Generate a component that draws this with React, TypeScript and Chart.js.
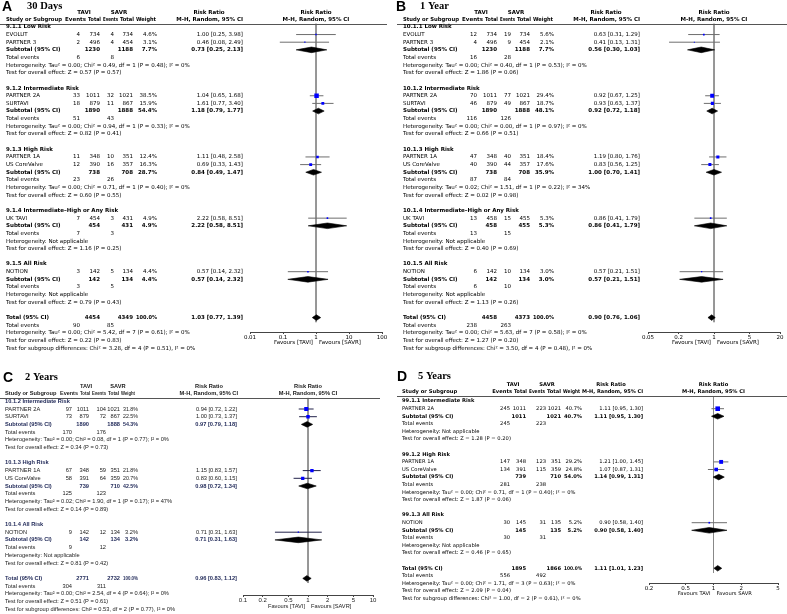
import { useEffect, useRef } from "react";
import { Chart, registerables } from "chart.js";

Chart.register(...registerables);

/* ================= Panel A : 30 Days ================= */
const A_groups = ["9.1.1 Low Risk", "9.1.2 Intermediate Risk", "9.1.3 High Risk", "9.1.4 Intermediate–High or Any Risk", "9.1.5 All Risk"];
const A_studies = ["EVOLUT", "PARTNER 3", "PARTNER 2A", "SURTAVI", "PARTNER 1A", "US CoreValve", "UK TAVI", "NOTION"];
const A_studyGroup = [0, 0, 1, 1, 2, 2, 3, 4];
const A_taviEvents = [4, 2, 33, 18, 11, 12, 7, 3];
const A_taviTotal = [734, 496, 1011, 879, 348, 390, 454, 142];
const A_savrEvents = [4, 4, 32, 11, 10, 16, 3, 5];
const A_savrTotal = [734, 454, 1021, 867, 351, 357, 431, 134];
const A_weight = [4.6, 3.1, 38.5, 15.9, 12.4, 16.3, 4.9, 4.4];
const A_rr = [1.0, 0.46, 1.04, 1.61, 1.11, 0.69, 2.22, 0.57];
const A_lo = [0.25, 0.08, 0.65, 0.77, 0.48, 0.33, 0.58, 0.14];
const A_hi = [3.98, 2.49, 1.68, 3.4, 2.58, 1.43, 8.51, 2.32];
const A_subTaviTotal = [1230, 1890, 738, 454, 142];
const A_subSavrTotal = [1188, 1888, 708, 431, 134];
const A_subWeight = [7.7, 54.4, 28.7, 4.9, 4.4];
const A_subRR = [0.73, 1.18, 0.84, 2.22, 0.57];
const A_subLo = [0.25, 0.79, 0.49, 0.58, 0.14];
const A_subHi = [2.13, 1.77, 1.47, 8.51, 2.32];
const A_subTaviEvents = [6, 51, 23, 7, 3];
const A_subSavrEvents = [8, 43, 26, 3, 5];
const A_subHet = [
  "Heterogeneity: Tau² = 0.00; Chi² = 0.49, df = 1 (P = 0.48); I² = 0%",
  "Heterogeneity: Tau² = 0.00; Chi² = 0.94, df = 1 (P = 0.33); I² = 0%",
  "Heterogeneity: Tau² = 0.00; Chi² = 0.71, df = 1 (P = 0.40); I² = 0%",
  "Heterogeneity: Not applicable",
  "Heterogeneity: Not applicable",
];
const A_subTest = [
  "Test for overall effect: Z = 0.57 (P = 0.57)",
  "Test for overall effect: Z = 0.82 (P = 0.41)",
  "Test for overall effect: Z = 0.60 (P = 0.55)",
  "Test for overall effect: Z = 1.16 (P = 0.25)",
  "Test for overall effect: Z = 0.79 (P = 0.43)",
];
const A_totalN = [4454, 4349];
const A_totalEvents = [90, 85];
const A_totalRR = [1.03, 0.77, 1.39];
const A_footer = [
  "Heterogeneity: Tau² = 0.00; Chi² = 5.42, df = 7 (P = 0.61); I² = 0%",
  "Test for overall effect: Z = 0.22 (P = 0.83)",
  "Test for subgroup differences: Chi² = 3.28, df = 4 (P = 0.51), I² = 0%",
];
const A_ticks = [0.01, 0.1, 1, 10, 100];
const A_tickLabels = ["0.01", "0.1", "1", "10", "100"];

/* ================= Panel B : 1 Year ================= */
const B_groups = ["10.1.1 Low Risk", "10.1.2 Intermediate Risk", "10.1.3 High Risk", "10.1.4 Intermediate–High or Any Risk", "10.1.5 All Risk"];
const B_studies = ["EVOLUT", "PARTNER 3", "PARTNER 2A", "SURTAVI", "PARTNER 1A", "US CoreValve", "UK TAVI", "NOTION"];
const B_studyGroup = [0, 0, 1, 1, 2, 2, 3, 4];
const B_taviEvents = [12, 4, 70, 46, 47, 40, 13, 6];
const B_taviTotal = [734, 496, 1011, 879, 348, 390, 458, 142];
const B_savrEvents = [19, 9, 77, 49, 40, 44, 15, 10];
const B_savrTotal = [734, 454, 1021, 867, 351, 357, 455, 134];
const B_weight = [5.6, 2.1, 29.4, 18.7, 18.4, 17.6, 5.3, 3.0];
const B_rr = [0.63, 0.41, 0.92, 0.93, 1.19, 0.83, 0.86, 0.57];
const B_lo = [0.31, 0.13, 0.67, 0.63, 0.8, 0.56, 0.41, 0.21];
const B_hi = [1.29, 1.31, 1.25, 1.37, 1.76, 1.25, 1.79, 1.51];
const B_subTaviTotal = [1230, 1890, 738, 458, 142];
const B_subSavrTotal = [1188, 1888, 708, 455, 134];
const B_subWeight = [7.7, 48.1, 35.9, 5.3, 3.0];
const B_subRR = [0.56, 0.92, 1.0, 0.86, 0.57];
const B_subLo = [0.3, 0.72, 0.7, 0.41, 0.21];
const B_subHi = [1.03, 1.18, 1.41, 1.79, 1.51];
const B_subTaviEvents = [16, 116, 87, 13, 6];
const B_subSavrEvents = [28, 126, 84, 15, 10];
const B_subHet = [
  "Heterogeneity: Tau² = 0.00; Chi² = 0.40, df = 1 (P = 0.53); I² = 0%",
  "Heterogeneity: Tau² = 0.00; Chi² = 0.00, df = 1 (P = 0.97); I² = 0%",
  "Heterogeneity: Tau² = 0.02; Chi² = 1.51, df = 1 (P = 0.22); I² = 34%",
  "Heterogeneity: Not applicable",
  "Heterogeneity: Not applicable",
];
const B_subTest = [
  "Test for overall effect: Z = 1.86 (P = 0.06)",
  "Test for overall effect: Z = 0.66 (P = 0.51)",
  "Test for overall effect: Z = 0.02 (P = 0.98)",
  "Test for overall effect: Z = 0.40 (P = 0.69)",
  "Test for overall effect: Z = 1.13 (P = 0.26)",
];
const B_totalN = [4458, 4373];
const B_totalEvents = [238, 263];
const B_totalRR = [0.9, 0.76, 1.06];
const B_footer = [
  "Heterogeneity: Tau² = 0.00; Chi² = 5.63, df = 7 (P = 0.58); I² = 0%",
  "Test for overall effect: Z = 1.27 (P = 0.20)",
  "Test for subgroup differences: Chi² = 3.50, df = 4 (P = 0.48), I² = 0%",
];
const B_ticks = [0.05, 0.2, 1, 5, 20];
const B_tickLabels = ["0.05", "0.2", "1", "5", "20"];

/* ================= Panel C : 2 Years ================= */
const C_groups = ["10.1.2 Intermediate Risk", "10.1.3 High Risk", "10.1.4 All Risk"];
const C_studies = ["PARTNER 2A", "SURTAVI", "PARTNER 1A", "US CoreValve", "NOTION"];
const C_studyGroup = [0, 0, 1, 1, 2];
const C_taviEvents = [97, 73, 67, 58, 9];
const C_taviTotal = [1011, 879, 348, 391, 142];
const C_savrEvents = [104, 72, 59, 64, 12];
const C_savrTotal = [1021, 867, 351, 359, 134];
const C_weight = [31.8, 22.5, 21.8, 20.7, 3.2];
const C_rr = [0.94, 1.0, 1.15, 0.83, 0.71];
const C_lo = [0.72, 0.73, 0.83, 0.6, 0.31];
const C_hi = [1.22, 1.37, 1.57, 1.15, 1.63];
const C_subTaviTotal = [1890, 739, 142];
const C_subSavrTotal = [1888, 710, 134];
const C_subWeight = [54.3, 42.5, 3.2];
const C_subRR = [0.97, 0.98, 0.71];
const C_subLo = [0.79, 0.72, 0.31];
const C_subHi = [1.18, 1.34, 1.63];
const C_subTaviEvents = [170, 125, 9];
const C_subSavrEvents = [176, 123, 12];
const C_subHet = [
  "Heterogeneity: Tau² = 0.00; Chi² = 0.08, df = 1 (P = 0.77); I² = 0%",
  "Heterogeneity: Tau² = 0.02; Chi² = 1.90, df = 1 (P = 0.17); I² = 47%",
  "Heterogeneity: Not applicable",
];
const C_subTest = [
  "Test for overall effect: Z = 0.34 (P = 0.73)",
  "Test for overall effect: Z = 0.14 (P = 0.89)",
  "Test for overall effect: Z = 0.81 (P = 0.42)",
];
const C_totalN = [2771, 2732];
const C_totalEvents = [304, 311];
const C_totalRR = [0.96, 0.83, 1.12];
const C_footer = [
  "Heterogeneity: Tau² = 0.00; Chi² = 2.54, df = 4 (P = 0.64); I² = 0%",
  "Test for overall effect: Z = 0.51 (P = 0.61)",
  "Test for subgroup differences: Chi² = 0.53, df = 2 (P = 0.77), I² = 0%",
];
const C_ticks = [0.1, 0.2, 0.5, 1, 2, 5, 10];
const C_tickLabels = ["0.1", "0.2", "0.5", "1", "2", "5", "10"];

/* ================= Panel D : 5 Years ================= */
const D_groups = ["99.1.1 Intermediate Risk", "99.1.2 High Risk", "99.1.3 All Risk"];
const D_studies = ["PARTNER 2A", "PARTNER 1A", "US CoreValve", "NOTION"];
const D_studyGroup = [0, 1, 1, 2];
const D_taviEvents = [245, 147, 134, 30];
const D_taviTotal = [1011, 348, 391, 145];
const D_savrEvents = [223, 123, 115, 31];
const D_savrTotal = [1021, 351, 359, 135];
const D_weight = [40.7, 29.2, 24.8, 5.2];
const D_rr = [1.11, 1.21, 1.07, 0.9];
const D_lo = [0.95, 1.0, 0.87, 0.58];
const D_hi = [1.3, 1.45, 1.31, 1.4];
const D_subTaviTotal = [1011, 739, 145];
const D_subSavrTotal = [1021, 710, 135];
const D_subWeight = [40.7, 54.0, 5.2];
const D_subRR = [1.11, 1.14, 0.9];
const D_subLo = [0.95, 0.99, 0.58];
const D_subHi = [1.3, 1.31, 1.4];
const D_subTaviEvents = [245, 281, 30];
const D_subSavrEvents = [223, 238, 31];
const D_subHet = [
  "Heterogeneity: Not applicable",
  "Heterogeneity: Tau² = 0.00; Chi² = 0.71, df = 1 (P = 0.40); I² = 0%",
  "Heterogeneity: Not applicable",
];
const D_subTest = [
  "Test for overall effect: Z = 1.28 (P = 0.20)",
  "Test for overall effect: Z = 1.87 (P = 0.06)",
  "Test for overall effect: Z = 0.46 (P = 0.65)",
];
const D_totalN = [1895, 1866];
const D_totalEvents = [556, 492];
const D_totalRR = [1.11, 1.01, 1.23];
const D_footer = [
  "Heterogeneity: Tau² = 0.00; Chi² = 1.71, df = 3 (P = 0.63); I² = 0%",
  "Test for overall effect: Z = 2.09 (P = 0.04)",
  "Test for subgroup differences: Chi² = 1.00, df = 2 (P = 0.61), I² = 0%",
];
const D_ticks = [0.2, 0.5, 1, 2, 5];
const D_tickLabels = ["0.2", "0.5", "1", "2", "5"];

/* ================= assembled tables ================= */
type PanelData = {
  letter: string; title: string; favours: string[];
  groups: string[]; studies: string[]; studyGroup: number[];
  taviEvents: number[]; taviTotal: number[]; savrEvents: number[]; savrTotal: number[];
  weight: number[]; rr: number[]; lo: number[]; hi: number[];
  subTaviTotal: number[]; subSavrTotal: number[]; subWeight: number[];
  subRR: number[]; subLo: number[]; subHi: number[];
  subTaviEvents: number[]; subSavrEvents: number[]; subHet: string[]; subTest: string[];
  totalN: number[]; totalEvents: number[]; totalRR: number[]; footer: string[];
  ticks: number[]; tickLabels: string[];
};

const PA: PanelData = {
  letter: "A", title: "30 Days", favours: ["Favours [TAVI]", "Favours [SAVR]"],
  groups: A_groups, studies: A_studies, studyGroup: A_studyGroup,
  taviEvents: A_taviEvents, taviTotal: A_taviTotal, savrEvents: A_savrEvents, savrTotal: A_savrTotal,
  weight: A_weight, rr: A_rr, lo: A_lo, hi: A_hi,
  subTaviTotal: A_subTaviTotal, subSavrTotal: A_subSavrTotal, subWeight: A_subWeight,
  subRR: A_subRR, subLo: A_subLo, subHi: A_subHi,
  subTaviEvents: A_subTaviEvents, subSavrEvents: A_subSavrEvents, subHet: A_subHet, subTest: A_subTest,
  totalN: A_totalN, totalEvents: A_totalEvents, totalRR: A_totalRR, footer: A_footer,
  ticks: A_ticks, tickLabels: A_tickLabels,
};
const PB: PanelData = {
  letter: "B", title: "1 Year", favours: ["Favours [TAVI]", "Favours [SAVR]"],
  groups: B_groups, studies: B_studies, studyGroup: B_studyGroup,
  taviEvents: B_taviEvents, taviTotal: B_taviTotal, savrEvents: B_savrEvents, savrTotal: B_savrTotal,
  weight: B_weight, rr: B_rr, lo: B_lo, hi: B_hi,
  subTaviTotal: B_subTaviTotal, subSavrTotal: B_subSavrTotal, subWeight: B_subWeight,
  subRR: B_subRR, subLo: B_subLo, subHi: B_subHi,
  subTaviEvents: B_subTaviEvents, subSavrEvents: B_subSavrEvents, subHet: B_subHet, subTest: B_subTest,
  totalN: B_totalN, totalEvents: B_totalEvents, totalRR: B_totalRR, footer: B_footer,
  ticks: B_ticks, tickLabels: B_tickLabels,
};
const PC: PanelData = {
  letter: "C", title: "2 Years", favours: ["Favours [TAVI]", "Favours [SAVR]"],
  groups: C_groups, studies: C_studies, studyGroup: C_studyGroup,
  taviEvents: C_taviEvents, taviTotal: C_taviTotal, savrEvents: C_savrEvents, savrTotal: C_savrTotal,
  weight: C_weight, rr: C_rr, lo: C_lo, hi: C_hi,
  subTaviTotal: C_subTaviTotal, subSavrTotal: C_subSavrTotal, subWeight: C_subWeight,
  subRR: C_subRR, subLo: C_subLo, subHi: C_subHi,
  subTaviEvents: C_subTaviEvents, subSavrEvents: C_subSavrEvents, subHet: C_subHet, subTest: C_subTest,
  totalN: C_totalN, totalEvents: C_totalEvents, totalRR: C_totalRR, footer: C_footer,
  ticks: C_ticks, tickLabels: C_tickLabels,
};
const PD: PanelData = {
  letter: "D", title: "5 Years", favours: ["Favours TAVI", "Favours SAVR"],
  groups: D_groups, studies: D_studies, studyGroup: D_studyGroup,
  taviEvents: D_taviEvents, taviTotal: D_taviTotal, savrEvents: D_savrEvents, savrTotal: D_savrTotal,
  weight: D_weight, rr: D_rr, lo: D_lo, hi: D_hi,
  subTaviTotal: D_subTaviTotal, subSavrTotal: D_subSavrTotal, subWeight: D_subWeight,
  subRR: D_subRR, subLo: D_subLo, subHi: D_subHi,
  subTaviEvents: D_subTaviEvents, subSavrEvents: D_subSavrEvents, subHet: D_subHet, subTest: D_subTest,
  totalN: D_totalN, totalEvents: D_totalEvents, totalRR: D_totalRR, footer: D_footer,
  ticks: D_ticks, tickLabels: D_tickLabels,
};

/* ================= layouts (positions / styles only) ================= */
type Layout = { [k: string]: any };

const baseStyle = {
  textColor: "#000", groupColor: "#000", ciColor: "#6e6e6e", refColor: "#888888",
  axisColor: "#444", ruleColor: "#555", sqColor: "#0000ff", sqK: 0.72, diamondHalf: 2.8,
  tickLen: 2, tickPad: 0, favoursDy: 11, letterSize: 14, titleSize: 10.5,
};

const LA: Layout = {
  ...baseStyle, x0: 0, y0: 0, w: 394, h: 352, plotL: 250, plotR: 382,
  ruleY: 23.5, ruleX1: 0, ruleX2: 387, rowY0: 26.9, step: 7.65, axisY: 332,
  hdr1Y: 12.7, hdr2Y: 19.3, letterX: 2, letterY: 11, titleX: 27, titleY: 8.5,
  family: "DejaVu Sans", fitWidth: 184, tickFont: 5.5, studyX: 6,
  cTEv: 80, cTTot: 100, cSEv: 114, cSTot: 133, cW: 157, cCI: 243,
  hStudyEnd: 62, hTEv: 86, hTTot: 101, hSEv: 118, hSTot: 134, hW: 156, hCI: 243,
  taviC: 84, savrC: 119, rrC: 209,
};
const dxB = 397;
const LB: Layout = {
  ...baseStyle, x0: 394, y0: 0, w: 393, h: 352, plotL: 648, plotR: 780,
  ruleY: 23.5, ruleX1: 397, ruleX2: 787, rowY0: 26.9, step: 7.65, axisY: 332,
  hdr1Y: 12.7, hdr2Y: 19.3, letterX: 396, letterY: 11, titleX: 420, titleY: 8.5,
  family: "DejaVu Sans", fitWidth: 184, tickFont: 5.5, studyX: 6 + dxB,
  cTEv: 80 + dxB, cTTot: 100 + dxB, cSEv: 114 + dxB, cSTot: 133 + dxB, cW: 157 + dxB, cCI: 243 + dxB,
  hStudyEnd: 62 + dxB, hTEv: 86 + dxB, hTTot: 101 + dxB, hSEv: 118 + dxB, hSTot: 134 + dxB, hW: 156 + dxB, hCI: 243 + dxB,
  taviC: 84 + dxB, savrC: 119 + dxB, rrC: 209 + dxB,
};
const LC: Layout = {
  ...baseStyle, x0: 0, y0: 352, w: 394, h: 262, plotL: 243, plotR: 373,
  ruleY: 397.7, ruleX1: 0, ruleX2: 380, rowY0: 401.3, step: 7.7, axisY: 595,
  hdr1Y: 386.7, hdr2Y: 393.3, letterX: 3, letterY: 382, titleX: 25, titleY: 380,
  family: "Liberation Sans", fitWidth: 164, tickFont: 6, studyX: 5,
  cTEv: 72, cTTot: 89, cSEv: 106, cSTot: 120, cW: 138, cCI: 237,
  hStudyEnd: 58, hTEv: 78, hTTot: 90, hSEv: 106, hSTot: 119, hW: 135, hCI: 238,
  taviC: 86, savrC: 118, rrC: 209, textColor: "#1a1a1a", groupColor: "#1d2656", ciColor: "#22224a",
};
const LD: Layout = {
  ...baseStyle, x0: 394, y0: 352, w: 393, h: 262, plotL: 649, plotR: 778,
  ruleY: 396, ruleX1: 397, ruleX2: 787, rowY0: 401.1, step: 7.6, axisY: 583,
  hdr1Y: 385, hdr2Y: 391.7, letterX: 397, letterY: 381, titleX: 418, titleY: 379,
  family: "DejaVu Sans", fitWidth: 174, tickFont: 5.5, studyX: 402,
  cTEv: 510, cTTot: 526, cSEv: 546, cSTot: 561, cW: 582, cCI: 643,
  hStudyEnd: 460, hTEv: 512, hTTot: 527, hSEv: 545, hSTot: 561, hW: 580, hCI: 643,
  taviC: 513, savrC: 547, rrC: 611,
};

/* ================= builders ================= */
type Row = { kind: string; text?: string; g?: number; s?: number };

function buildRows(d: PanelData): Row[] {
  const rows: Row[] = [];
  d.groups.forEach((name, g) => {
    rows.push({ kind: "group", text: name });
    d.studies.forEach((_s, i) => {
      if (d.studyGroup[i] === g) rows.push({ kind: "study", s: i });
    });
    rows.push({ kind: "subtotal", g });
    rows.push({ kind: "events", g });
    rows.push({ kind: "text", text: d.subHet[g] });
    rows.push({ kind: "text", text: d.subTest[g] });
    rows.push({ kind: "blank" });
  });
  rows.push({ kind: "total" });
  rows.push({ kind: "totalEvents" });
  d.footer.forEach((t) => rows.push({ kind: "text", text: t }));
  return rows;
}

function buildDatasets(d: PanelData, L: Layout, rows: Row[]) {
  const squares: { x: number; y: number }[] = [];
  const radii: number[] = [];
  const diamonds: any[] = [];
  const cis: any[] = [];
  const half = L.diamondHalf / L.step;
  const yTop = (L.ruleY - L.rowY0) / L.step;
  let totalIdx = 0;
  rows.forEach((r, idx) => {
    if (r.kind === "study") {
      const i = r.s as number;
      cis.push({
        data: [{ x: d.lo[i], y: idx }, { x: d.hi[i], y: idx }],
        showLine: true, borderColor: L.ciColor, borderWidth: 1, pointRadius: 0,
      });
      squares.push({ x: d.rr[i], y: idx });
      radii.push((L.sqK * Math.sqrt(d.weight[i])) / Math.SQRT2);
    }
    if (r.kind === "subtotal" || r.kind === "total") {
      let est: number, lo: number, hi: number;
      if (r.kind === "total") {
        totalIdx = idx;
        [est, lo, hi] = d.totalRR;
      } else {
        const g = r.g as number;
        est = d.subRR[g]; lo = d.subLo[g]; hi = d.subHi[g];
      }
      diamonds.push({
        data: [{ x: lo, y: idx }, { x: est, y: idx - half }, { x: hi, y: idx }],
        showLine: true, fill: "+1", backgroundColor: "#000", borderColor: "#000",
        borderWidth: 0.6, pointRadius: 0,
      });
      diamonds.push({
        data: [{ x: lo, y: idx }, { x: est, y: idx + half }, { x: hi, y: idx }],
        showLine: true, fill: false, borderColor: "#000", borderWidth: 0.6, pointRadius: 0,
      });
    }
  });
  const ref = {
    data: [{ x: 1, y: yTop }, { x: 1, y: totalIdx + 0.6 }],
    showLine: true, borderColor: L.refColor, borderWidth: 1, pointRadius: 0,
  };
  const sq = {
    data: squares, showLine: false, pointStyle: "rect", pointRadius: radii,
    backgroundColor: L.sqColor, borderWidth: 0,
  };
  // first dataset is drawn on top
  return [sq, ...diamonds, ...cis, ref];
}

const fmt2 = (v: number) => v.toFixed(2);
const ciText = (e: number, l: number, h: number) => `${fmt2(e)} [${fmt2(l)}, ${fmt2(h)}]`;

function makeTablePlugin(d: PanelData, L: Layout, rows: Row[]) {
  return {
    id: "forestTable" + d.letter,
    afterDraw(chart: any) {
      const ctx: CanvasRenderingContext2D = chart.ctx;
      const ys = chart.scales.y;
      const xs = chart.scales.x;
      const cx = (v: number) => v - L.x0;
      const cy = (v: number) => v - L.y0;
      ctx.save();
      ctx.font = `10px "${L.family}"`;
      const fs = (10 * L.fitWidth) / ctx.measureText(d.footer[0]).width;
      const reg = `${fs}px "${L.family}"`;
      const bold = `bold ${fs}px "${L.family}"`;
      const wMax = L.cW - L.cSTot - 3;
      const put = (s: string, x: number, y: number, align: CanvasTextAlign, font: string, color?: string, maxW?: number) => {
        ctx.font = font;
        ctx.textAlign = align;
        ctx.textBaseline = "middle";
        ctx.fillStyle = color || L.textColor;
        if (maxW !== undefined) ctx.fillText(s, x, y, maxW);
        else ctx.fillText(s, x, y);
      };

      // title
      ctx.textBaseline = "alphabetic";
      ctx.textAlign = "left";
      ctx.fillStyle = "#000";
      ctx.font = `bold ${L.letterSize}px "Liberation Sans"`;
      ctx.fillText(d.letter, cx(L.letterX), cy(L.letterY));
      ctx.font = `bold ${L.titleSize}px "Liberation Serif"`;
      ctx.fillText(d.title, cx(L.titleX), cy(L.titleY));

      const x1 = xs.getPixelForValue(1);
      // header line 1
      const h1 = cy(L.hdr1Y);
      put("TAVI", cx(L.taviC), h1, "center", bold);
      put("SAVR", cx(L.savrC), h1, "center", bold);
      put("Risk Ratio", cx(L.rrC), h1, "center", bold);
      put("Risk Ratio", x1, h1, "center", bold);
      // header line 2 (each header kept within its own column)
      const h2 = cy(L.hdr2Y);
      put("Study or Subgroup", cx(L.studyX), h2, "left", bold, undefined, L.hStudyEnd - L.studyX);
      const hdrs: [string, number][] = [
        ["Events", L.hTEv], ["Total", L.hTTot], ["Events", L.hSEv],
        ["Total", L.hSTot], ["Weight", L.hW], ["M-H, Random, 95% CI", L.hCI],
      ];
      let prev = L.hStudyEnd;
      hdrs.forEach(([s, right]) => {
        put(s, cx(right), h2, "right", bold, undefined, right - prev - 2);
        prev = right;
      });
      put("M-H, Random, 95% CI", x1, h2, "center", bold);

      // rule
      ctx.strokeStyle = L.ruleColor;
      ctx.lineWidth = 1;
      ctx.beginPath();
      const ry = Math.round(cy(L.ruleY)) + 0.5;
      ctx.moveTo(cx(L.ruleX1), ry);
      ctx.lineTo(cx(L.ruleX2), ry);
      ctx.stroke();

      rows.forEach((r, idx) => {
        const y = ys.getPixelForValue(idx);
        if (r.kind === "group") {
          put(r.text as string, cx(L.studyX), y, "left", bold, L.groupColor);
        } else if (r.kind === "study") {
          const i = r.s as number;
          put(d.studies[i], cx(L.studyX), y, "left", reg);
          put(String(d.taviEvents[i]), cx(L.cTEv), y, "right", reg);
          put(String(d.taviTotal[i]), cx(L.cTTot), y, "right", reg);
          put(String(d.savrEvents[i]), cx(L.cSEv), y, "right", reg);
          put(String(d.savrTotal[i]), cx(L.cSTot), y, "right", reg);
          put(`${d.weight[i].toFixed(1)}%`, cx(L.cW), y, "right", reg, undefined, wMax);
          put(ciText(d.rr[i], d.lo[i], d.hi[i]), cx(L.cCI), y, "right", reg);
        } else if (r.kind === "subtotal") {
          const g = r.g as number;
          put("Subtotal (95% CI)", cx(L.studyX), y, "left", bold, L.groupColor);
          put(String(d.subTaviTotal[g]), cx(L.cTTot), y, "right", bold, L.groupColor);
          put(String(d.subSavrTotal[g]), cx(L.cSTot), y, "right", bold, L.groupColor);
          put(`${d.subWeight[g].toFixed(1)}%`, cx(L.cW), y, "right", bold, L.groupColor, wMax);
          put(ciText(d.subRR[g], d.subLo[g], d.subHi[g]), cx(L.cCI), y, "right", bold, L.groupColor);
        } else if (r.kind === "events") {
          const g = r.g as number;
          put("Total events", cx(L.studyX), y, "left", reg);
          put(String(d.subTaviEvents[g]), cx(L.cTEv), y, "right", reg);
          put(String(d.subSavrEvents[g]), cx(L.cSEv), y, "right", reg);
        } else if (r.kind === "text") {
          put(r.text as string, cx(L.studyX), y, "left", reg);
        } else if (r.kind === "total") {
          put("Total (95% CI)", cx(L.studyX), y, "left", bold, L.groupColor);
          put(String(d.totalN[0]), cx(L.cTTot), y, "right", bold, L.groupColor);
          put(String(d.totalN[1]), cx(L.cSTot), y, "right", bold, L.groupColor);
          put("100.0%", cx(L.cW), y, "right", bold, L.groupColor, wMax);
          put(ciText(d.totalRR[0], d.totalRR[1], d.totalRR[2]), cx(L.cCI), y, "right", bold, L.groupColor);
        } else if (r.kind === "totalEvents") {
          put("Total events", cx(L.studyX), y, "left", reg);
          put(String(d.totalEvents[0]), cx(L.cTEv), y, "right", reg);
          put(String(d.totalEvents[1]), cx(L.cSEv), y, "right", reg);
        }
      });

      const yf = chart.chartArea.bottom + L.favoursDy;
      put(d.favours[0], x1 - 3, yf, "right", reg);
      put(d.favours[1], x1 + 3, yf, "left", reg);
      ctx.restore();
    },
  };
}

function ForestPanel({ d, L }: { d: PanelData; L: Layout }) {
  const ref = useRef<HTMLCanvasElement>(null);
  useEffect(() => {
    const canvas = ref.current as HTMLCanvasElement;
    const rows = buildRows(d);
    const datasets = buildDatasets(d, L, rows);
    const axisH = L.tickLen + L.tickFont * 1.2 + 2 * L.tickPad;
    const chart = new Chart(canvas, {
      type: "scatter",
      data: { datasets: datasets as any },
      options: {
        responsive: false,
        maintainAspectRatio: false,
        animation: false,
        devicePixelRatio: 1,
        events: [],
        layout: {
          padding: {
            left: L.plotL - L.x0,
            right: L.x0 + L.w - L.plotR,
            top: L.ruleY - L.y0,
            bottom: L.y0 + L.h - L.axisY - axisH,
          },
        },
        scales: {
          x: {
            type: "logarithmic",
            min: d.ticks[0],
            max: d.ticks[d.ticks.length - 1],
            afterBuildTicks: (ax: any) => {
              ax.ticks = d.ticks.map((v) => ({ value: v }));
            },
            ticks: {
              autoSkip: false, maxRotation: 0, minRotation: 0, padding: L.tickPad,
              font: { family: L.family, size: L.tickFont }, color: L.textColor,
              callback: (_v: any, i: number) => d.tickLabels[i],
            },
            grid: { drawOnChartArea: false, drawTicks: true, tickLength: L.tickLen, color: L.axisColor },
            border: { display: true, color: L.axisColor, width: 1 },
          },
          y: {
            type: "linear",
            display: false,
            reverse: true,
            min: (L.ruleY - L.rowY0) / L.step,
            max: (L.axisY - L.rowY0) / L.step,
          },
        },
        plugins: { legend: { display: false }, tooltip: { enabled: false } },
      } as any,
      plugins: [makeTablePlugin(d, L, rows)],
    });
    return () => chart.destroy();
  }, []);
  return (
    <canvas
      ref={ref}
      width={L.w}
      height={L.h}
      style={{ position: "absolute", left: L.x0, top: L.y0, width: L.w, height: L.h }}
    />
  );
}

export default function App() {
  return (
    <div style={{ position: "fixed", left: 0, top: 0, width: 787, height: 614, background: "#fff", overflow: "hidden" }}>
      <ForestPanel d={PA} L={LA} />
      <ForestPanel d={PB} L={LB} />
      <ForestPanel d={PC} L={LC} />
      <ForestPanel d={PD} L={LD} />
    </div>
  );
}
